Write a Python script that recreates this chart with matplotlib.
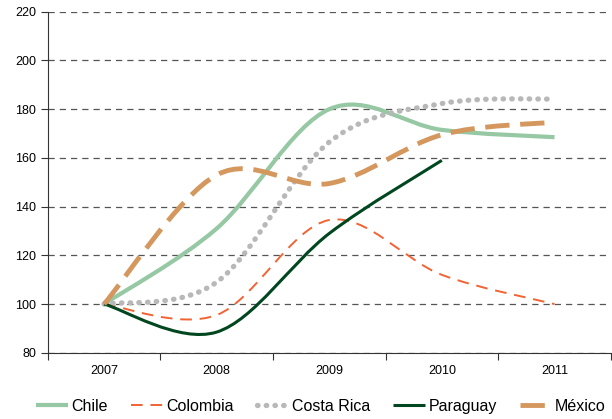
import matplotlib.pyplot as plt
import numpy as np
from matplotlib.path import Path
from matplotlib.patches import PathPatch
from matplotlib.lines import Line2D

plt.rcParams['font.family'] = ['Liberation Sans', 'DejaVu Sans']

years = ['2007', '2008', '2009', '2010', '2011']
chile = [100, 131, 180, 171.5, 168.5]
colombia = [100, 95.5, 134.5, 112, 100]
costa_rica = [100, 109, 166.5, 182.3, 184.2]
paraguay = [100, 88.5, 129, 159]
mexico = [100, 153, 149.5, 169.5, 174.7]

series = [
    ('Chile', chile, '#95c8a3', 3.0, '-', 'butt'),
    ('Colombia', colombia, '#f26334', 1.4, (0, (6, 4)), 'butt'),
    ('Costa Rica', costa_rica, '#b8b8b8', 3.8, (0, (0.1, 1.55)), 'round'),
    ('Paraguay', paraguay, '#00461e', 2.2, '-', 'butt'),
    ('México', mexico, '#d4975e', 3.5, (0, (5, 2.2)), 'butt'),
]


def smooth_path(y):
    # bezier through the points, like a spreadsheet "smoothed line"
    x = np.arange(len(y), dtype=float)
    y = np.asarray(y, dtype=float)
    pts = np.column_stack([x, y])
    verts = [pts[0]]
    codes = [Path.MOVETO]
    n = len(pts)
    for i in range(n - 1):
        p0 = pts[max(i - 1, 0)]
        p1 = pts[i]
        p2 = pts[i + 1]
        p3 = pts[min(i + 2, n - 1)]
        c1 = p1 + (p2 - p0) / 6
        c2 = p2 - (p3 - p1) / 6
        verts += [c1, c2, p2]
        codes += [Path.CURVE4] * 3
    return Path(verts, codes)


fig, ax = plt.subplots(figsize=(6.12, 4.19), dpi=100)
fig.subplots_adjust(left=0.078, right=0.998, top=0.972, bottom=0.158)

handles = []
for name, vals, color, lw, ls, cap in series:
    patch = PathPatch(smooth_path(vals), facecolor='none', edgecolor=color,
                      lw=lw, linestyle=ls, capstyle=cap, zorder=3)
    ax.add_patch(patch)
    handles.append(Line2D([], [], color=color, lw=lw, linestyle=ls,
                          dash_capstyle=cap, solid_capstyle='butt'))

ax.set_xlim(-0.5, 4.5)
ax.set_ylim(80, 220)
ax.set_yticks(range(80, 221, 20))
ax.yaxis.grid(True, linestyle=(0, (5, 4)), color='#555555', lw=0.9)
ax.set_axisbelow(True)

ax.set_xticks(np.arange(-0.5, 4.6, 1))
ax.set_xticklabels([])
ax.set_xticks(range(len(years)), minor=True)
ax.set_xticklabels(years, minor=True)
ax.tick_params(axis='x', which='minor', length=0, pad=9, labelsize=9)
ax.tick_params(axis='x', which='major', length=5, direction='out', color='#333333')
ax.tick_params(axis='y', length=5, direction='out', labelsize=9, color='#333333')

for s in ['top', 'right']:
    ax.spines[s].set_visible(False)
ax.spines['left'].set_color('#333333')
ax.spines['bottom'].set_color('#333333')

fig.legend(handles, [s[0] for s in series], loc='lower left', ncol=5,
           frameon=False, fontsize=11.5, handlelength=2.0, columnspacing=1.45,
           handletextpad=0.2, borderpad=0, borderaxespad=0,
           bbox_to_anchor=(36 / 612, 0.012))

fig.savefig('out.png')
